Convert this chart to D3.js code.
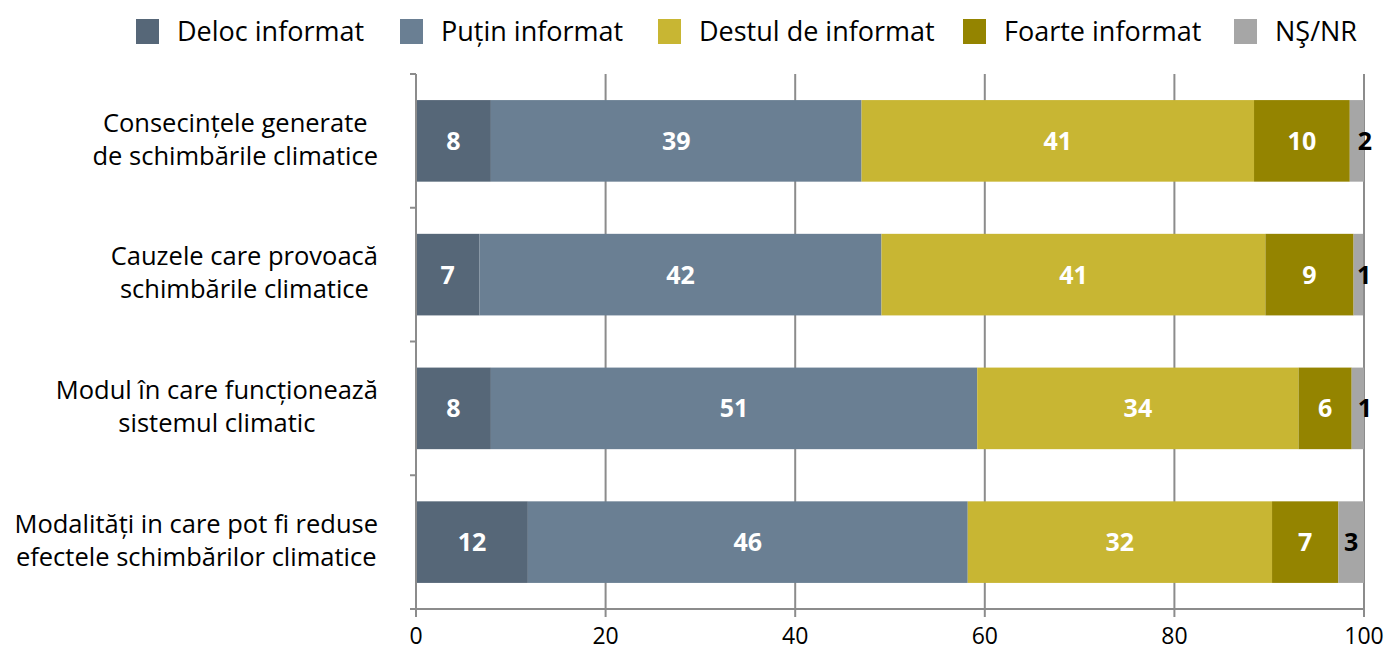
<!DOCTYPE html>
<html>
<head>
<meta charset="utf-8">
<script src="https://cdn.jsdelivr.net/npm/d3@7"></script>
<style>
  body { margin: 0; background: #fff; }
  text { font-family: "Open Sans", sans-serif; }
</style>
</head>
<body>
<script>
// Data
var categories = [
  ['Consecințele generate', 'de schimbările climatice'],
  ['Cauzele care provoacă', 'schimbările climatice'],
  ['Modul în care funcționează', 'sistemul climatic'],
  ['Modalități in care pot fi reduse', 'efectele schimbărilor climatice']
];
var seriesNames = ['Deloc informat', 'Puțin informat', 'Destul de informat', 'Foarte informat', 'NŞ/NR'];
var delocInformat  = [7.9, 6.7, 7.9, 11.8];
var putinInformat  = [39.1, 42.4, 51.3, 46.4];
var destulInformat = [41.4, 40.5, 33.9, 32.1];
var foarteInformat = [10.1, 9.3, 5.6, 7.0];
var nsnr           = [1.5, 1.0, 1.3, 2.7];
var xTicks = [0, 20, 40, 60, 80, 100];

var colors = ['#566778', '#6a7f93', '#c8b633', '#948400', '#a6a6a6'];
var labelColors = ['#fff', '#fff', '#fff', '#fff', '#000'];

var width = 1388, height = 648;
var margin = {top: 74, right: 24, bottom: 39, left: 416};
var plotW = width - margin.left - margin.right,
    plotH = height - margin.top - margin.bottom;

var svg = d3.select('body').append('svg')
  .attr('width', width)
  .attr('height', height);

var g = svg.append('g')
  .attr('transform', 'translate(' + margin.left + ',' + margin.top + ')');

var x = d3.scaleLinear().domain([0, 100]).range([0, plotW]);
var y = d3.scaleBand().domain(d3.range(categories.length)).range([0, plotH])
  .paddingInner(0.39).paddingOuter(0.195);

// Gridlines
g.append('g').selectAll('line')
  .data(xTicks.slice(1))
  .enter()
  .append('line')
    .attr('x1', function(d){ return x(d); })
    .attr('x2', function(d){ return x(d); })
    .attr('y1', 0)
    .attr('y2', plotH)
    .style('stroke', '#8c8c8c')
    .style('stroke-width', 2);

// Stack the series
var rows = categories.map(function(c, i){
  return [delocInformat[i], putinInformat[i], destulInformat[i], foarteInformat[i], nsnr[i]];
});

rows.forEach(function(vals, ri){
  var acc = 0;
  var segs = vals.map(function(v, si){
    var s = {x0: acc, x1: acc + v, v: v, si: si};
    acc += v;
    return s;
  });
  var rowG = g.append('g');

  rowG.selectAll('rect')
    .data(segs)
    .enter()
    .append('rect')
      .attr('x', function(d){ return x(d.x0); })
      .attr('width', function(d){ return x(d.x1) - x(d.x0); })
      .attr('y', y(ri))
      .attr('height', y.bandwidth())
      .style('fill', function(d){ return colors[d.si]; });

  rowG.selectAll('text')
    .data(segs)
    .enter()
    .append('text')
      .attr('x', function(d){
        var w = x(d.x1) - x(d.x0);
        return w < 20 ? x(d.x1) + 1 : (x(d.x0) + x(d.x1)) / 2;
      })
      .attr('y', y(ri) + y.bandwidth() / 2)
      .attr('dy', '0.36em')
      .style('text-anchor', 'middle')
      .style('font-size', '25px')
      .style('font-weight', 'bold')
      .style('fill', function(d){ return labelColors[d.si]; })
      .text(function(d){ return Math.round(d.v); });
});

// Left axis
var yAxis = g.append('g');
yAxis.append('line')
  .attr('x1', 0).attr('x2', 0).attr('y1', 0).attr('y2', plotH)
  .style('stroke', '#8c8c8c').style('stroke-width', 2);
yAxis.selectAll('line.tick')
  .data(d3.range(categories.length + 1))
  .enter()
  .append('line')
    .attr('class', 'tick')
    .attr('x1', -6).attr('x2', 0)
    .attr('y1', function(d){ return d * y.step(); })
    .attr('y2', function(d){ return d * y.step(); })
    .style('stroke', '#8c8c8c').style('stroke-width', 2);

// Category labels (centred block, right aligned to axis)
categories.forEach(function(lines, i){
  var t = g.append('g');
  var texts = t.selectAll('text')
    .data(lines)
    .enter()
    .append('text')
      .attr('y', function(d, li){ return y(i) + y.bandwidth() / 2 - 2 + (li - 0.5) * 33; })
      .attr('dy', '0.36em')
      .style('font-size', '25.5px')
      .style('fill', '#000')
      .style('text-anchor', 'middle')
      .text(function(d){ return d; });
  var maxW = 0;
  texts.each(function(){ maxW = Math.max(maxW, this.getComputedTextLength()); });
  texts.attr('x', -38 - maxW / 2);
});

// Bottom axis
var xAxis = g.append('g').attr('transform', 'translate(0,' + plotH + ')');
xAxis.append('line')
  .attr('x1', -6).attr('x2', plotW).attr('y1', 0).attr('y2', 0)
  .style('stroke', '#8c8c8c').style('stroke-width', 2);
xAxis.selectAll('line.tick')
  .data(xTicks)
  .enter()
  .append('line')
    .attr('class', 'tick')
    .attr('x1', function(d){ return x(d); })
    .attr('x2', function(d){ return x(d); })
    .attr('y1', 0).attr('y2', 8)
    .style('stroke', '#8c8c8c').style('stroke-width', 2);
xAxis.selectAll('text')
  .data(xTicks)
  .enter()
  .append('text')
    .attr('x', function(d){ return x(d); })
    .attr('y', 27)
    .attr('dy', '0.36em')
    .style('text-anchor', 'middle')
    .style('font-size', '23px')
    .style('fill', '#000')
    .text(function(d){ return d; });

// Legend
var legendX = [136, 400, 658, 963, 1234];
var legend = svg.append('g');
var items = legend.selectAll('g')
  .data(seriesNames)
  .enter()
  .append('g')
    .attr('transform', function(d, i){ return 'translate(' + legendX[i] + ',19)'; });
items.append('rect')
  .attr('width', 23).attr('height', 25)
  .style('fill', function(d, i){ return colors[i]; });
items.append('text')
  .attr('x', 41).attr('y', 12.5)
  .attr('dy', '0.36em')
  .style('font-size', '27px')
  .style('fill', '#000')
  .text(function(d){ return d; });
</script>
</body>
</html>
